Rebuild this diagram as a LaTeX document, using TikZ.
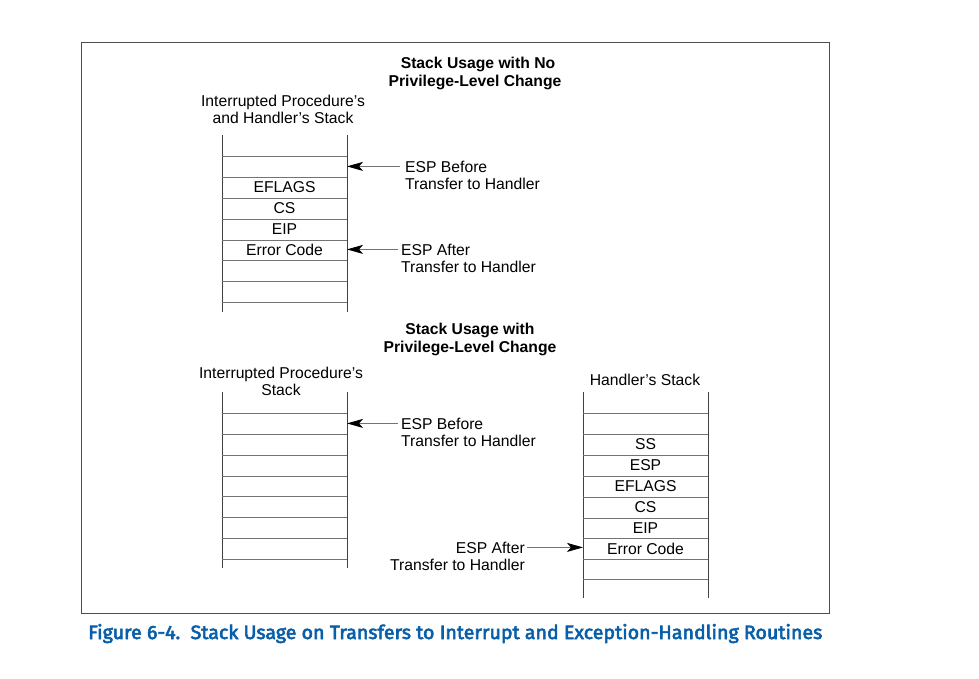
\documentclass[tikz,border=0pt]{standalone}
\usepackage{fontspec}
\setmainfont{Liberation Sans}
\newfontfamily\captfont[FakeBold=3]{Fira Sans}
\usetikzlibrary{arrows.meta}
\definecolor{captblue}{RGB}{8,94,168}
\begin{document}
\begin{tikzpicture}[x=1pt,y=-1pt,
  vline/.style={draw=black!75,line width=0.9pt},
  hline/.style={draw=black!55,line width=0.8pt},
  lbl/.style={font=\fontsize{15.7}{18}\selectfont,inner sep=0pt},
  ttl/.style={font=\fontsize{15.7}{18}\selectfont\bfseries,inner sep=0pt},
  ptr/.style={draw=black!55,line width=0.8pt,-{Stealth[black,length=16pt,width=9pt,inset=4pt]}}]
\useasboundingbox (0,0) rectangle (979,678);
\draw[draw=black!70,line width=0.9pt] (81,42) rectangle (829,613);

% ---------- top part
\node[ttl,anchor=base] (t1a) at (478,68) {Stack Usage with No};
\node[ttl,anchor=base] (t1b) at (475,86) {Privilege-Level Change};
\node[lbl,anchor=base] (s1a) at (283,106) {Interrupted Procedure’s};
\node[lbl,anchor=base] (s1b) at (283,123) {and Handler’s Stack};

\coordinate (aL) at (222,0);
\coordinate (aR) at (347,0);
\draw[vline] (222,135) -- (222,312);
\draw[vline] (347,135) -- (347,312);
\foreach \y in {156,177,198,219,240,260,281,302}
  \draw[hline] (222,\y) -- (347,\y);
\node[lbl] (a1) at (284.5,187.5) {EFLAGS};
\node[lbl] (a2) at (284.5,208.5) {CS};
\node[lbl] (a3) at (284.5,229.5) {EIP};
\node[lbl] (a4) at (284.5,250) {Error Code};

\node[lbl,anchor=base west] (eb1) at (405,172) {ESP Before};
\node[lbl,anchor=base west] (eb2) at (405,189) {Transfer to Handler};
\draw[ptr] ([xshift=-5pt]eb1.west) -- (eb1.west -| aR);
\node[lbl,anchor=base west] (ea1) at (401,255) {ESP After};
\node[lbl,anchor=base west] (ea2) at (401,272) {Transfer to Handler};
\draw[ptr] ([xshift=-3pt]ea1.west) -- (ea1.west -| aR);

% ---------- bottom part
\node[ttl,anchor=base] (t2a) at (470,334) {Stack Usage with};
\node[ttl,anchor=base] (t2b) at (470,352) {Privilege-Level Change};

\node[lbl,anchor=base] (s2a) at (281,378) {Interrupted Procedure’s};
\node[lbl,anchor=base] (s2b) at (281,395) {Stack};
\coordinate (bL) at (222,0);
\coordinate (bR) at (347,0);
\draw[vline] (222,392) -- (222,568);
\draw[vline] (347,392) -- (347,568);
\foreach \y in {413,434,455,476,496,517,538,559}
  \draw[hline] (222,\y) -- (347,\y);
\node[lbl,anchor=base west] (eb3) at (401,429) {ESP Before};
\node[lbl,anchor=base west] (eb4) at (401,446) {Transfer to Handler};
\draw[ptr] ([xshift=-3pt]eb3.west) -- (eb3.west -| bR);

\node[lbl,anchor=base] (s3) at (645,385) {Handler’s Stack};
\coordinate (cL) at (583,0);
\coordinate (cR) at (708,0);
\draw[vline] (583,392) -- (583,598);
\draw[vline] (708,392) -- (708,598);
\foreach \y in {413,434,455,476,497,518,538,559,579}
  \draw[hline] (583,\y) -- (708,\y);
\node[lbl] (c1) at (645.5,444.5) {SS};
\node[lbl] (c2) at (645.5,465.5) {ESP};
\node[lbl] (c3) at (645.5,486.5) {EFLAGS};
\node[lbl] (c4) at (645.5,507.5) {CS};
\node[lbl] (c5) at (645.5,528) {EIP};
\node[lbl] (c6) at (645.5,548.5) {Error Code};

\node[lbl,anchor=base east] (ea3) at (525,553) {ESP After};
\node[lbl,anchor=base east] (ea4) at (525,570) {Transfer to Handler};
\draw[ptr] ([xshift=2pt]ea3.east) -- (ea3.east -| cL);

% ---------- caption
\node[anchor=base west,inner sep=0pt,text=captblue] (cap) at (88,639)
  {\resizebox{734pt}{15pt}{\captfont Figure 6-4.\ \ Stack Usage on Transfers to Interrupt and Exception-Handling Routines}};
\end{tikzpicture}
\end{document}
